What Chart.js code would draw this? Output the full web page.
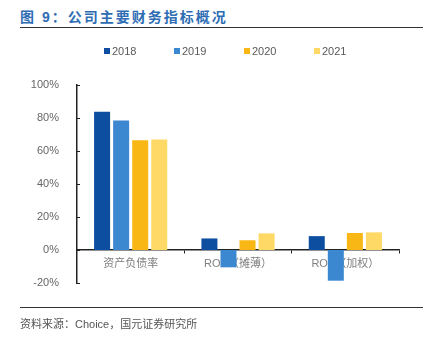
<!DOCTYPE html>
<html>
<head>
    <meta charset="utf-8" />
    <title>公司主要财务指标概况</title>
    <script src="https://cdn.jsdelivr.net/npm/chart.js"></script>
    <style>
        body { margin: 0; background: #fff; font-family: "Liberation Sans", Arial, "Noto Sans CJK SC", sans-serif; }
        #wrap { position: relative; width: 434px; height: 339px; overflow: hidden; }
        #title { position: absolute; left: 20px; top: 6px; font-size: 14px; font-weight: bold; color: #2e6db4; letter-spacing: 2px; font-family: "Liberation Sans", "Noto Sans CJK SC", sans-serif; }
        .rule { position: absolute; left: 20px; width: 403px; height: 1px; background: #333; }
        #legend { position: absolute; top: 44px; left: 0; width: 434px; height: 14px; }
        .item { position: absolute; font-size: 11px; color: #595959; line-height: 14px; }
        .item i { display: inline-block; width: 6px; height: 6px; margin-right: 2px; vertical-align: 1px; }
        #source { position: absolute; left: 20px; top: 315px; font-size: 11px; color: #555; font-family: "Liberation Sans", "Noto Sans CJK SC", sans-serif; }
        #chartBox { position: absolute; left: 0; top: 0; width: 434px; height: 339px; }
    </style>
</head>
<body>
    <div id="wrap">
        <div id="title">图 9：公司主要财务指标概况</div>
        <div class="rule" style="top: 27px;"></div>
        <div id="chartBox"><canvas id="finChart" width="434" height="339"></canvas></div>
        <div id="legend"></div>
        <div class="rule" style="top: 307px;"></div>
        <div id="source">资料来源：Choice，国元证券研究所</div>
    </div>

    <script>
        // 数据（%）
        const categories = ['资产负债率', 'ROE（摊薄）', 'ROE（加权）'];
        const years = ['2018', '2019', '2020', '2021'];
        const v2018 = [83.8, 7.0, 8.4];
        const v2019 = [78.5, -10.5, -18.6];
        const v2020 = [66.5, 5.9, 10.3];
        const v2021 = [66.9, 10.1, 10.7];
        const yTicks = [-20, 0, 20, 40, 60, 80, 100];

        const colors = ['#0d4ea0', '#3b87d0', '#f8b714', '#ffd966'];
        const series = [v2018, v2019, v2020, v2021];

        // 图例
        const legendEl = document.getElementById('legend');
        years.forEach((y, i) => {
            const d = document.createElement('div');
            d.className = 'item';
            d.style.left = (104 + i * 70) + 'px';
            d.innerHTML = '<i style="background:' + colors[i] + '"></i>' + y;
            legendEl.appendChild(d);
        });

        // y 轴内侧刻度
        const innerTicks = {
            id: 'innerTicks',
            afterDraw(chart) {
                const ctx = chart.ctx, ys = chart.scales.y;
                ctx.save();
                ctx.strokeStyle = '#222';
                ctx.lineWidth = 1;
                yTicks.forEach(t => {
                    const p = Math.round(ys.getPixelForValue(t)) + 0.5;
                    ctx.beginPath();
                    ctx.moveTo(ys.right, p);
                    ctx.lineTo(ys.right + 3, p);
                    ctx.stroke();
                });
                ctx.restore();
            }
        };

        const ctx = document.getElementById('finChart').getContext('2d');
        new Chart(ctx, {
            type: 'bar',
            data: {
                labels: categories,
                datasets: years.map((y, i) => ({
                    label: y,
                    data: series[i],
                    backgroundColor: colors[i],
                    borderWidth: 0,
                    barPercentage: 0.84,
                    categoryPercentage: 0.71
                }))
            },
            options: {
                responsive: false,
                animation: false,
                devicePixelRatio: 1,
                layout: { padding: { left: 0, right: 35, top: 85, bottom: 56 } },
                plugins: {
                    legend: { display: false },
                    tooltip: { enabled: false }
                },
                scales: {
                    x: {
                        position: { y: 0 },
                        grid: { display: true, drawOnChartArea: false, drawTicks: true, tickLength: 3, color: '#222', offset: true },
                        border: { display: true, color: '#222', width: 1.5 },
                        ticks: {
                            color: '#808080',
                            padding: 4,
                            font: { size: 11, family: '"Liberation Sans", "Noto Sans CJK SC", sans-serif' }
                        }
                    },
                    y: {
                        min: -20,
                        max: 100,
                        afterFit(scale) { scale.width = 77; },
                        afterBuildTicks(scale) { scale.ticks = yTicks.map(v => ({ value: v })); },
                        grid: { display: false },
                        border: { display: true, color: '#222', width: 1.5 },
                        ticks: {
                            color: '#666',
                            padding: 10,
                            font: { size: 11, family: '"Liberation Sans", Arial, sans-serif' },
                            callback: v => v + '%'
                        }
                    }
                }
            },
            plugins: [innerTicks]
        });
    </script>
</body>
</html>
